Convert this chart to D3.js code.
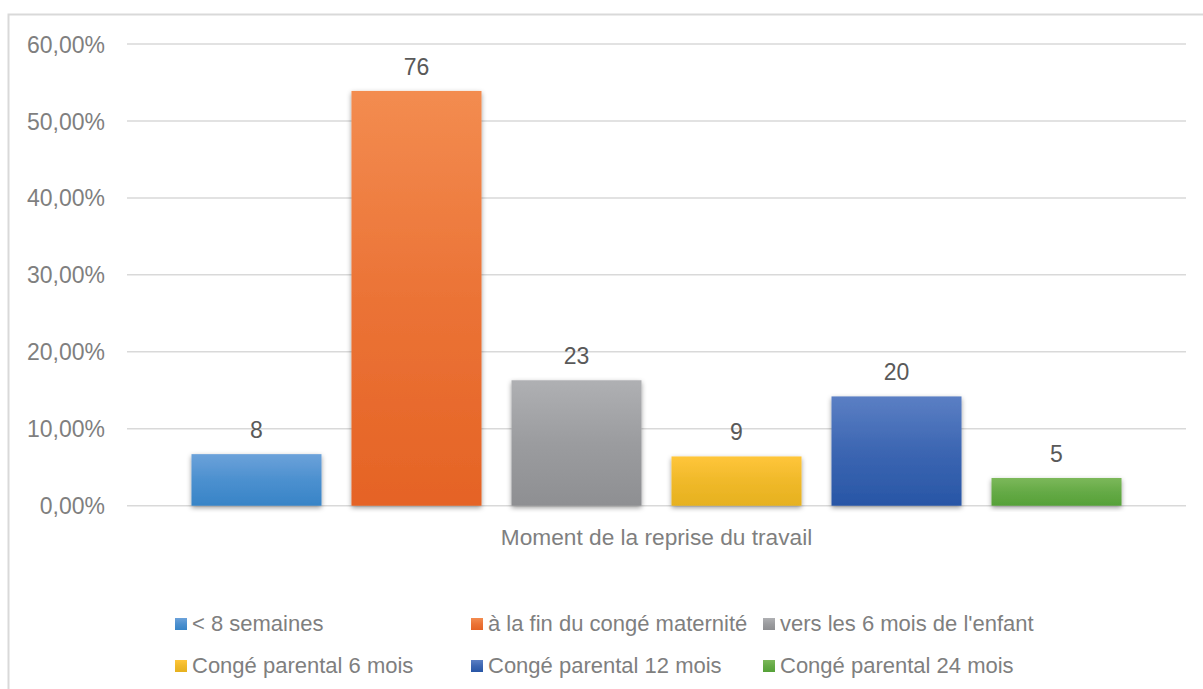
<!DOCTYPE html>
<html>
<head>
<meta charset="utf-8">
<script src="https://cdn.jsdelivr.net/npm/d3@7"></script>
<style>
  html, body { margin: 0; padding: 0; background: #fff; }
  svg { display: block; }
  text { font-family: "Liberation Sans", Arial, sans-serif; }
</style>
</head>
<body>
<svg id="chart" width="1203" height="689"></svg>
<script>
// ---- data ----
const category = "Moment de la reprise du travail";
const seriesNames = ["< 8 semaines", "à la fin du congé maternité", "vers les 6 mois de l'enfant",
                     "Congé parental 6 mois", "Congé parental 12 mois", "Congé parental 24 mois"];
const seriesPercent = [6.7, 53.9, 16.3, 6.4, 14.2, 3.6];
const seriesCounts = [8, 76, 23, 9, 20, 5];
const yTicks = [0, 10, 20, 30, 40, 50, 60];
const colorsTop = ["#6ca2da", "#f38c50", "#afb0b3", "#ffc63a", "#5b7fc4", "#7cb85a"];
const colorsBottom = ["#3784c7", "#e56325", "#8e8f92", "#e6b11f", "#2856a6", "#56a138"];

// ---- layout ----
const svg = d3.select("#chart");
const plot = { left: 127, right: 1186, top: 44, bottom: 505.7 };

const defs = svg.append("defs");
seriesNames.forEach((s, i) => {
  const g = defs.append("linearGradient").attr("id", "grad" + i)
    .attr("x1", 0).attr("y1", 0).attr("x2", 0).attr("y2", 1);
  g.append("stop").attr("offset", "0%").attr("stop-color", colorsTop[i]);
  g.append("stop").attr("offset", "50%").attr("stop-color", d3.interpolateRgb(colorsTop[i], colorsBottom[i])(0.6));
  g.append("stop").attr("offset", "100%").attr("stop-color", colorsBottom[i]);
});
const f = defs.append("filter").attr("id", "shadow")
  .attr("x", "-10%").attr("y", "-10%").attr("width", "120%").attr("height", "130%");
f.append("feDropShadow").attr("dx", 0).attr("dy", 2).attr("stdDeviation", 2.5)
  .attr("flood-color", "#000").attr("flood-opacity", 0.4);

// outer border
svg.append("path")
  .attr("d", "M8.5,689 L8.5,14.5 L1203,14.5")
  .attr("fill", "none").attr("stroke", "#d9d9d9").attr("stroke-width", 2);

const y = d3.scaleLinear().domain([0, 60]).range([plot.bottom, plot.top]);
const x0 = d3.scaleBand().domain([category]).range([plot.left, plot.right]);
const x1 = d3.scaleBand().domain(seriesNames).range([plot.left, plot.right])
  .paddingInner(0.1875).paddingOuter(0.403);

// gridlines
svg.append("g").selectAll("line").data(yTicks).join("line")
  .attr("x1", plot.left).attr("x2", plot.right)
  .attr("y1", d => y(d)).attr("y2", d => y(d))
  .attr("stroke", "#d9d9d9").attr("stroke-width", 1.5);

// y axis labels
const fmt = d => d3.format(".2f")(d).replace(".", ",") + "%";
const yAxis = d3.axisLeft(y).tickValues(yTicks).tickFormat(fmt).tickSize(0).tickPadding(0);
const ya = svg.append("g").attr("transform", `translate(105,0)`).call(yAxis);
ya.select(".domain").remove();
ya.selectAll("text").attr("font-size", 23).attr("fill", "#7f7f7f")
  .style("font-family", '"Liberation Sans", Arial, sans-serif').attr("dy", "0.35em");

// bars
const bars = svg.append("g");
bars.selectAll("rect").data(seriesNames).join("rect")
  .attr("x", d => x1(d)).attr("width", x1.bandwidth())
  .attr("y", (d, i) => y(seriesPercent[i]))
  .attr("height", (d, i) => y(0) - y(seriesPercent[i]))
  .attr("fill", (d, i) => `url(#grad${i})`)
  .attr("filter", "url(#shadow)");

// data labels
svg.append("g").selectAll("text").data(seriesNames).join("text")
  .attr("x", d => x1(d) + x1.bandwidth() / 2)
  .attr("y", (d, i) => y(seriesPercent[i]) - 16)
  .attr("text-anchor", "middle").attr("font-size", 23).attr("fill", "#595959")
  .text((d, i) => seriesCounts[i]);

// x axis (category title)
const xAxis = d3.axisBottom(x0).tickSize(0).tickPadding(0);
const xa = svg.append("g").attr("transform", `translate(0,${plot.bottom})`).call(xAxis);
xa.select(".domain").remove();
xa.selectAll("text").attr("font-size", 22.7).attr("fill", "#7f7f7f")
  .style("font-family", '"Liberation Sans", Arial, sans-serif')
  .attr("dy", 0).attr("y", 39);

// legend
const legendCols = [175, 471, 763];
const legendRows = [631, 673];
const lg = svg.append("g").selectAll("g").data(seriesNames).join("g")
  .attr("transform", (d, i) => `translate(${legendCols[i % 3]},${legendRows[Math.floor(i / 3)]})`);
lg.append("rect").attr("x", 0).attr("y", -13).attr("width", 12).attr("height", 12)
  .attr("fill", (d, i) => `url(#grad${i})`);
lg.append("text").attr("x", 17).attr("y", 0).attr("font-size", 22).attr("fill", "#7f7f7f")
  .style("font-family", '"Liberation Sans", Arial, sans-serif')
  .text(d => d);
</script>
</body>
</html>
